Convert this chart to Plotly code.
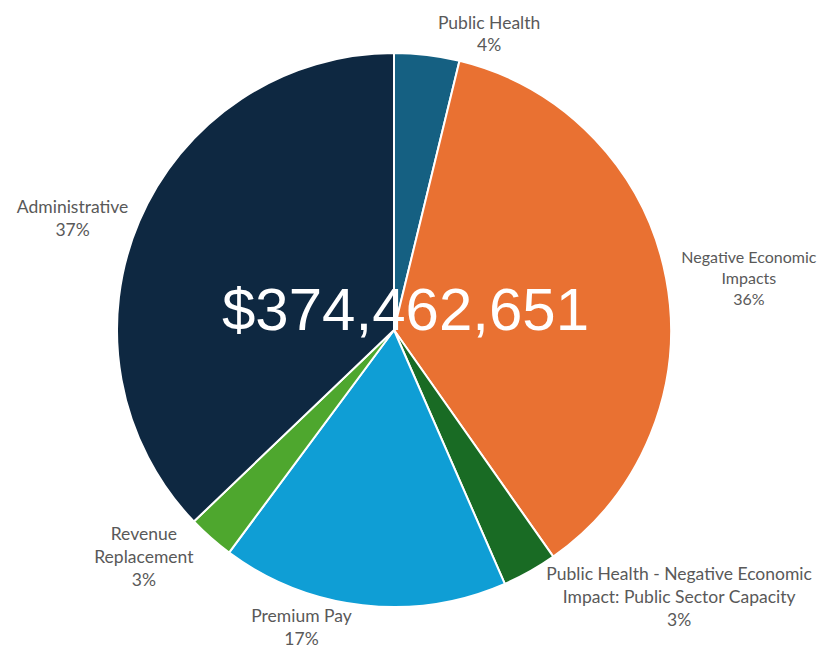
import plotly.graph_objects as go

categories = [
    "Public Health",
    "Negative Economic Impacts",
    "Public Health - Negative Economic Impact: Public Sector Capacity",
    "Premium Pay",
    "Revenue Replacement",
    "Administrative",
]
display_labels = [
    "Public Health",
    "Negative Economic<br>Impacts",
    "Public Health - Negative Economic<br>Impact: Public Sector Capacity",
    "Premium Pay",
    "Revenue<br>Replacement",
    "Administrative",
]
shares = [3.8, 36.45, 3.2, 16.7, 2.7, 37.15]
colors = ["#156082", "#E97132", "#196B24", "#0F9ED5", "#4EA72E", "#0E2841"]
total_label = "$374,462,651"

fig = go.Figure(
    go.Pie(
        labels=categories,
        values=shares,
        text=display_labels,
        sort=False,
        direction="clockwise",
        rotation=0,
        marker=dict(colors=colors, line=dict(color="white", width=2)),
        textposition="outside",
        texttemplate="%{text}<br>%{percent:.0%}",
        textfont=dict(family="Lato", size=[17.5, 16, 17.5, 17.5, 17.5, 17.5], color="#595959"),
        showlegend=False,
        domain=dict(x=[0.1425, 0.8173], y=[0.0872, 0.9203]),
        automargin=False,
    )
)
fig.add_annotation(
    x=0.494, y=0.535, xref="paper", yref="paper",
    text=total_label, showarrow=False,
    font=dict(family="Liberation Sans, Arial", size=60, color="white"),
)
fig.update_layout(
    width=821, height=665,
    margin=dict(l=0, r=0, t=0, b=0),
    paper_bgcolor="white", plot_bgcolor="white",
)
fig.write_html("out.html")
